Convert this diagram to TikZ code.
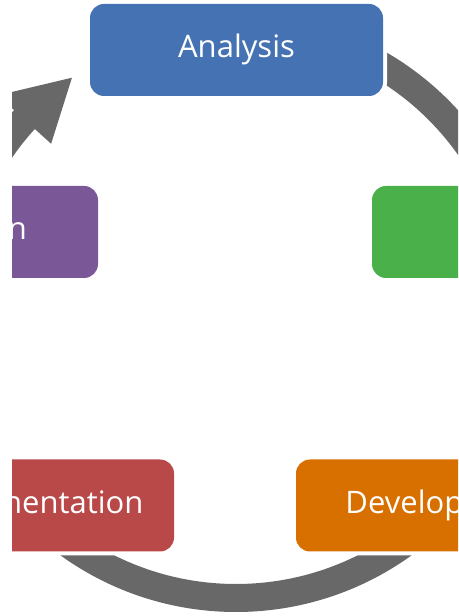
\documentclass[tikz,border=0pt]{standalone}
\usepackage{fontspec}
\usetikzlibrary{calc}
\newfontfamily\boxfont{Open Sans}
\definecolor{stageblue}{RGB}{68,114,178}
\definecolor{stagegreen}{RGB}{74,176,74}
\definecolor{stagepurple}{RGB}{122,88,152}
\definecolor{stagered}{RGB}{185,72,72}
\definecolor{stageorange}{RGB}{216,112,0}
\definecolor{ringgray}{RGB}{104,104,104}
\begin{document}
\begin{tikzpicture}[x=1pt,y=1pt,
  stage/.style={rounded corners=14pt, minimum width=293pt, minimum height=92pt,
    inner sep=0pt, text=white, text height=23pt, text depth=7pt,
    font=\boxfont\fontsize{31}{37}\selectfont,
    preaction={draw=white, line width=8pt}},
  ring/.style={fill=ringgray}]
\useasboundingbox (0,0) rectangle (458,616);
\fill[white] (0,0) rectangle (458,616);
\clip (12,0) rectangle (458,616);

% centre of the cycle and the arrow tip pointing at the first stage
\coordinate (C) at (236,304);
\coordinate (tip) at ($(C)+(125:286)$);

% ring segments between the stages
\fill[ring] ($(C)+(70:300)$) arc[start angle=70, end angle=-10, radius=300]
  -- ($(C)+(-10:272)$) arc[start angle=-10, end angle=70, radius=272] -- cycle;
\fill[ring] ($(C)+(225:300)$) arc[start angle=225, end angle=315, radius=300]
  -- ($(C)+(315:272)$) arc[start angle=315, end angle=225, radius=272] -- cycle;
\fill[ring] ($(C)+(170:300)$) arc[start angle=170, end angle=137.7, radius=300]
  -- ($(C)+(137.7:322)$) -- (tip) -- ($(C)+(137.7:250)$)
  -- ($(C)+(137.7:272)$) arc[start angle=137.7, end angle=170, radius=272] -- cycle;

% stages
\node[stage, fill=stageblue]   (analysis) at (236.5,566) {Analysis};
\node[stage, fill=stagegreen]  (design)   at (518.5,384) {Design};
\node[stage, fill=stageorange] (develop)  at (442.5,110.5) {Development};
\node[stage, fill=stagered]    (implement) at (27.5,110.5) {Implementation};
\node[stage, fill=stagepurple] (evaluate) at (-48.5,384) {Evaluation};
\end{tikzpicture}
\end{document}
